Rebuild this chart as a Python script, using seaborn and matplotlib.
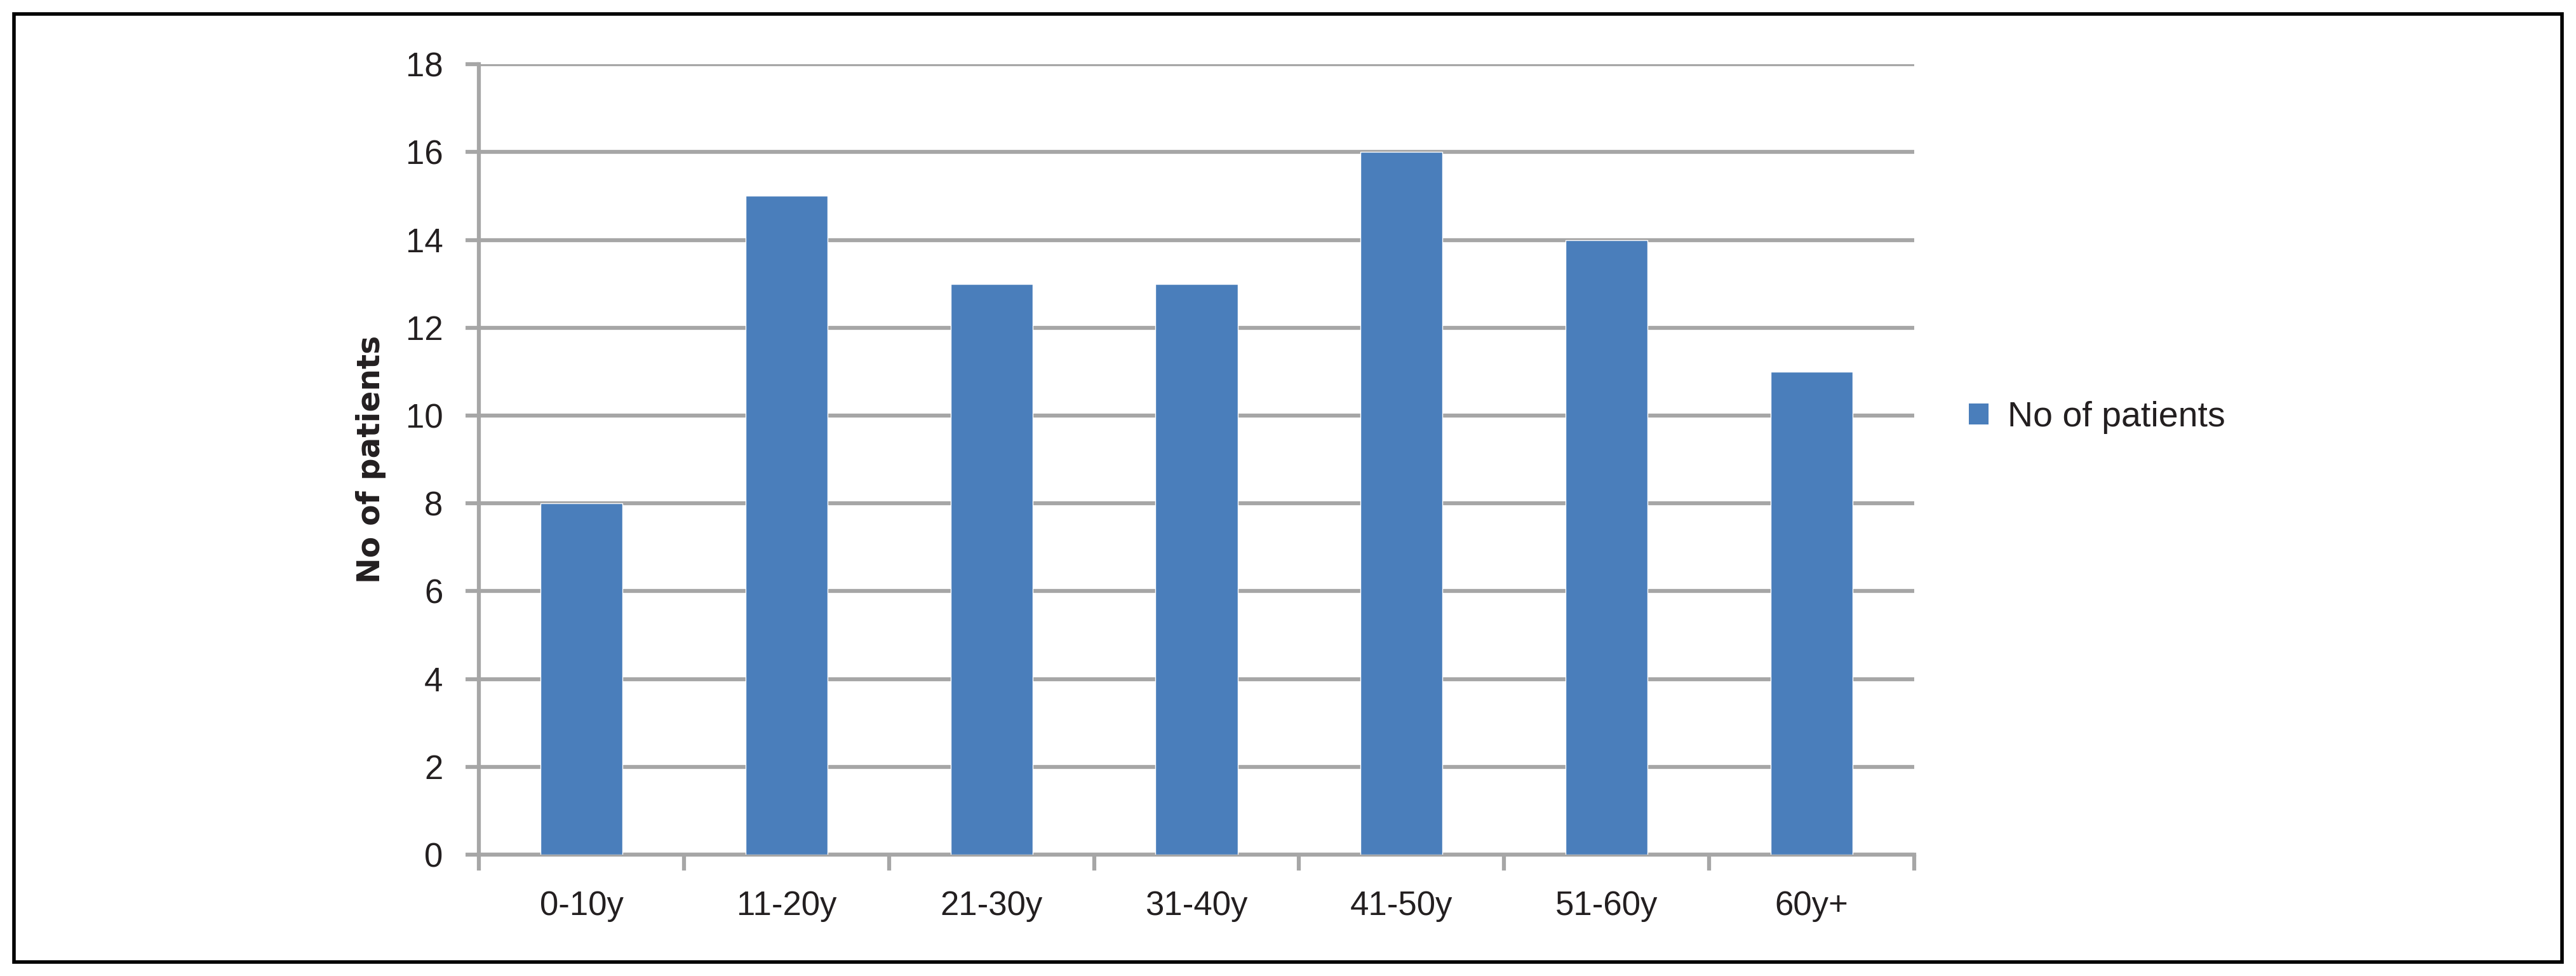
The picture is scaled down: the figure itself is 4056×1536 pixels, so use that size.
import seaborn as sns
import matplotlib.pyplot as plt
from matplotlib.patches import Patch, Rectangle
import pandas as pd

age_groups = ['0-10y', '11-20y', '21-30y', '31-40y', '41-50y', '51-60y', '60y+']
patients = [8, 15, 13, 13, 16, 14, 11]

df = pd.DataFrame({'age': age_groups, 'patients': patients})

sns.set_style('white')
plt.rcParams['font.family'] = ['Liberation Sans', 'DejaVu Sans']

bar_color = '#4A7EBB'
grid_color = '#A6A6A6'
text_color = '#231F20'

fig = plt.figure(figsize=(40.56, 15.36), dpi=100)
ax = fig.add_axes([0.186, 0.1243, 0.557, 0.8099])

sns.barplot(data=df, x='age', y='patients', color=bar_color, width=0.4,
            saturation=1, ax=ax, zorder=3)

ax.set_ylim(0, 18)
ax.set_yticks(range(0, 19, 2))
ax.set_xlim(-0.5, len(age_groups) - 0.5)
ax.yaxis.grid(True, color=grid_color, linewidth=4.5, zorder=0)
ax.set_axisbelow(True)

for s in ['top', 'right']:
    ax.spines[s].set_visible(False)
for s in ['left', 'bottom']:
    ax.spines[s].set_color(grid_color)
    ax.spines[s].set_linewidth(4.5)

# category boundary ticks on x, outward ticks on y
ax.set_xticks(range(len(age_groups)))
ax.set_xticklabels(age_groups, fontsize=38)
ax.set_xticks([i - 0.5 for i in range(len(age_groups) + 1)], minor=True)
ax.tick_params(axis='x', which='major', length=0, pad=40)
ax.tick_params(axis='x', which='minor', length=18, width=4.5, color=grid_color,
               direction='out', bottom=True)
ax.tick_params(axis='y', length=15, width=4.5, color=grid_color, labelsize=38,
               pad=26, left=True)
for lbl in ax.get_yticklabels() + ax.get_xticklabels():
    lbl.set_color(text_color)

ax.set_xlabel('')
ax.set_ylabel('No of patients', fontsize=35, fontweight='bold',
              family='DejaVu Sans', color=text_color, labelpad=22)

handle = Patch(facecolor=bar_color, edgecolor='none')
fig.legend([handle], ['No of patients'], loc='center left',
           bbox_to_anchor=(0.752, 0.572), frameon=False, fontsize=40,
           handlelength=0.55, handleheight=0.55, handletextpad=0.55,
           labelcolor=text_color)

# outer frame
fig.patches.append(Rectangle((0.0055, 0.014), 0.989, 0.972, transform=fig.transFigure,
                             fill=False, edgecolor='black', linewidth=4))

fig.savefig('out.png', dpi=100)
